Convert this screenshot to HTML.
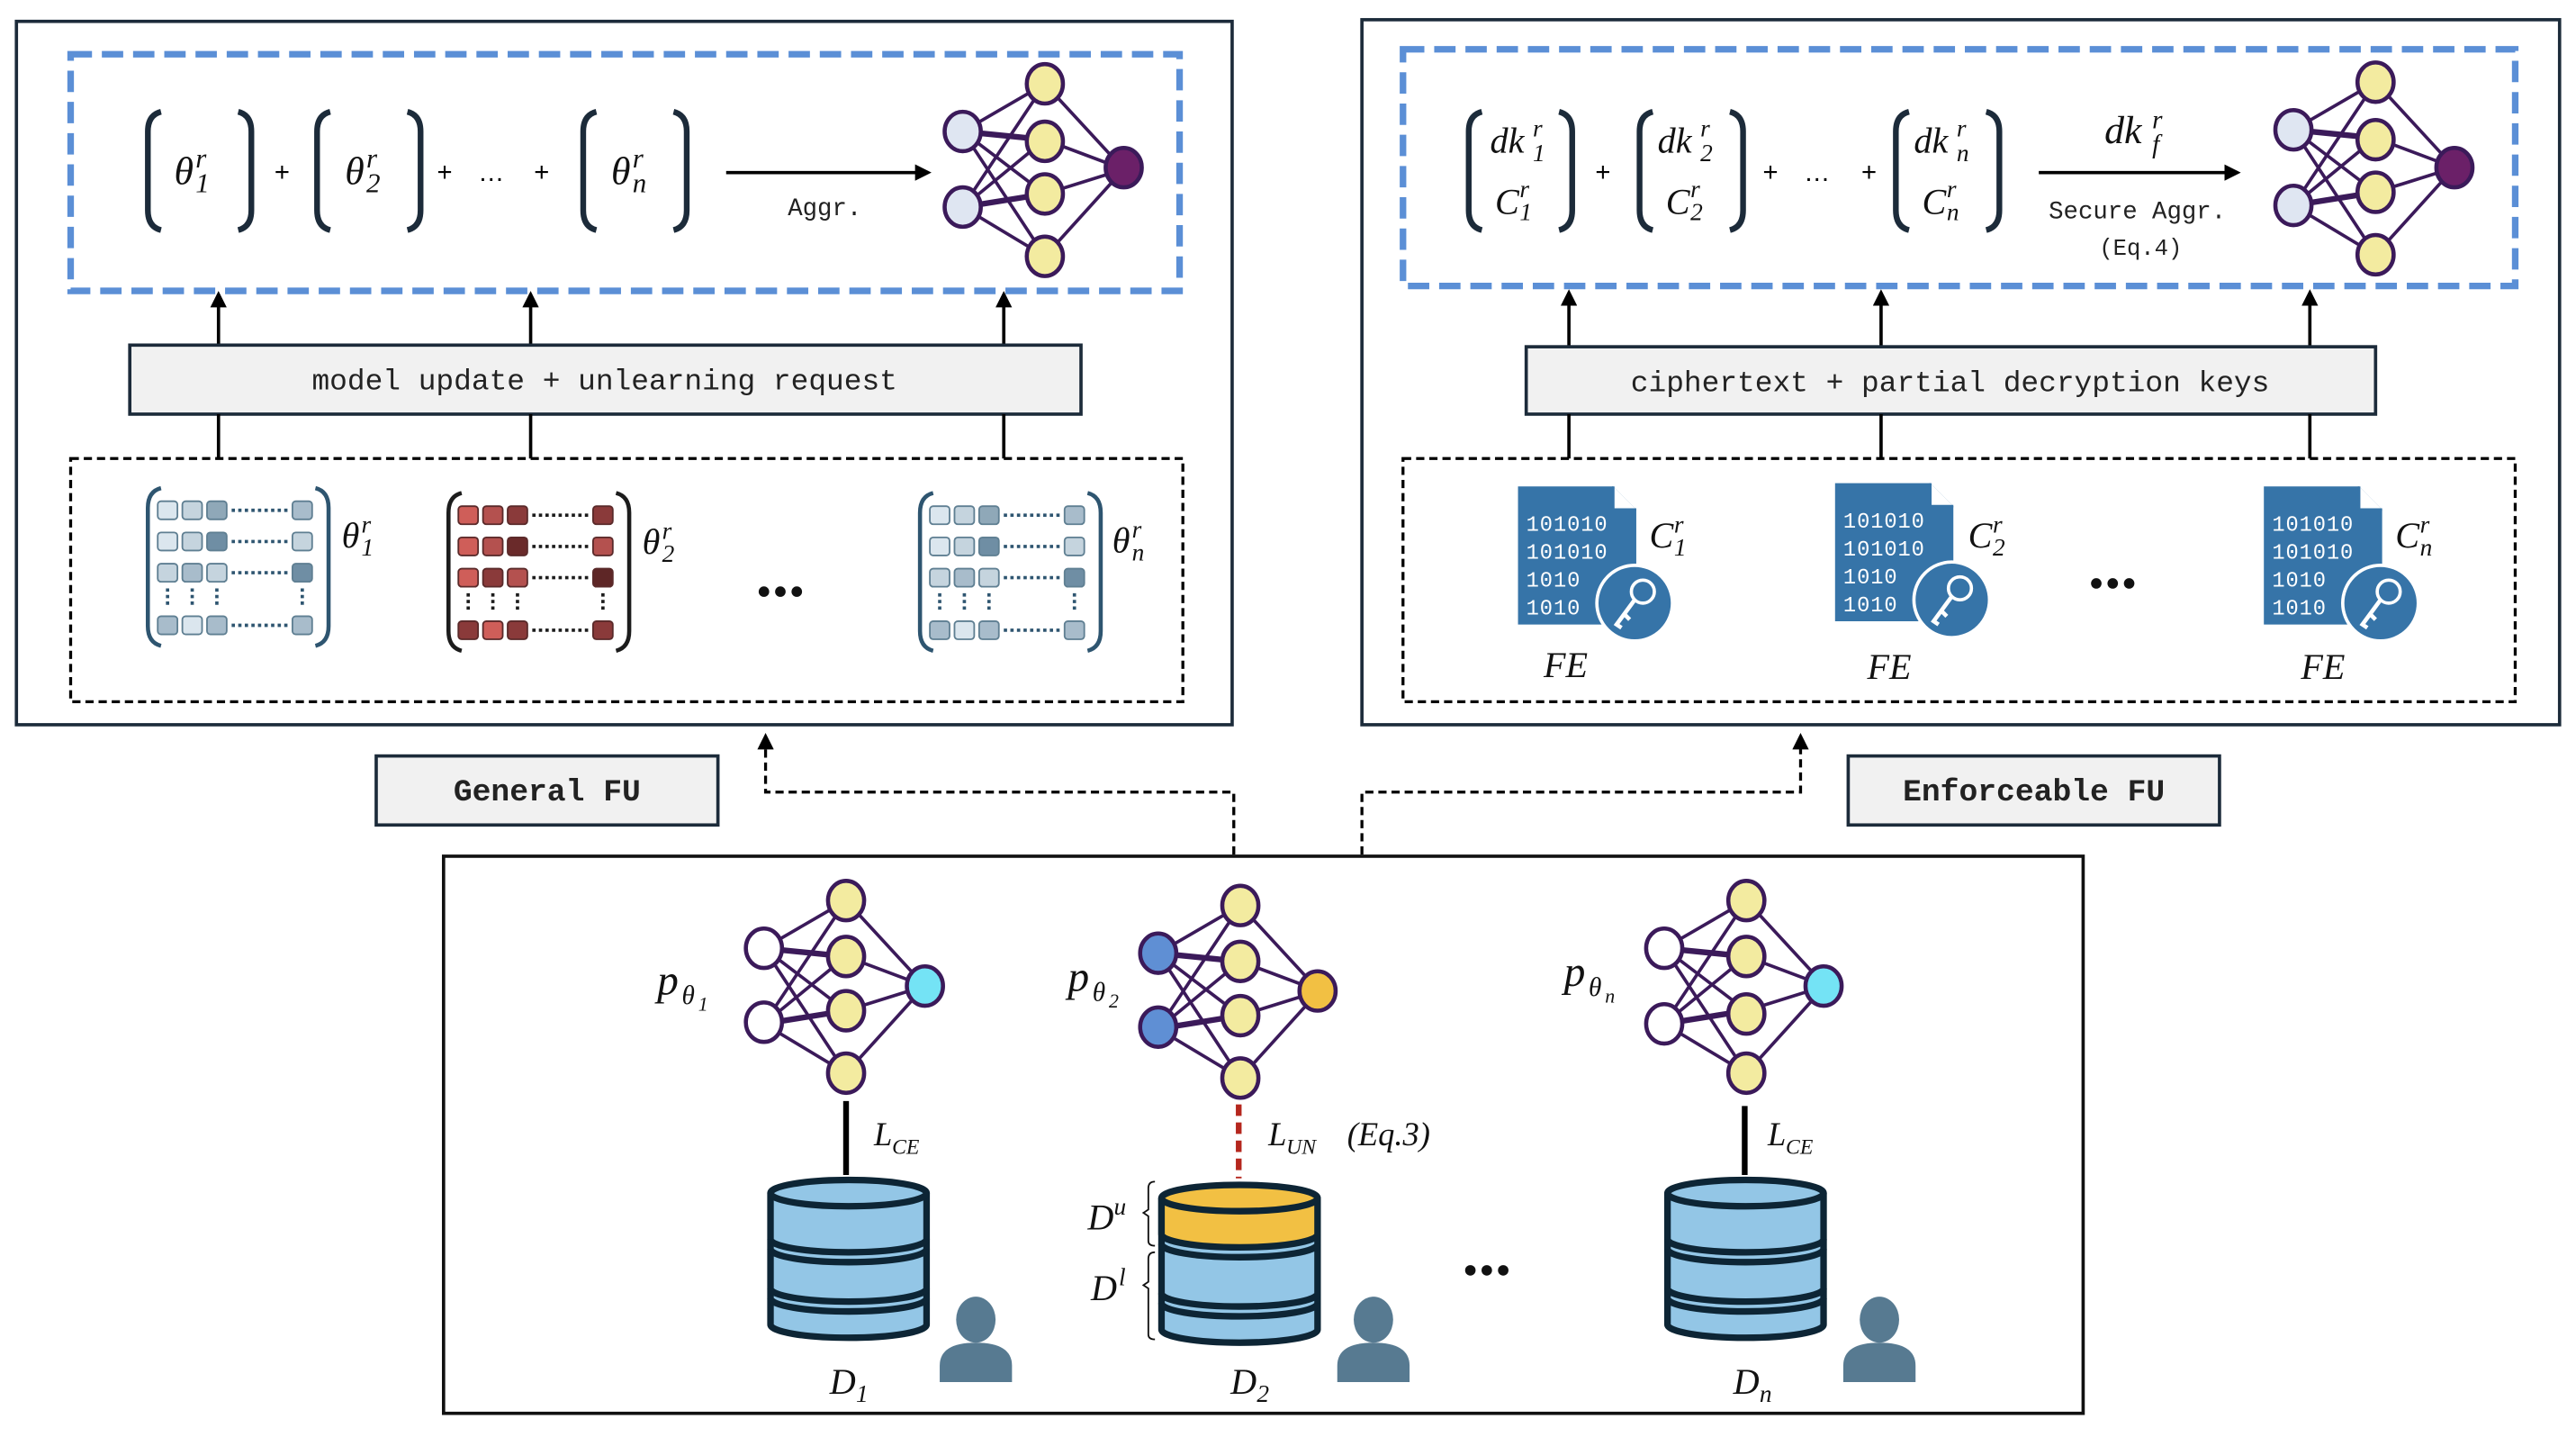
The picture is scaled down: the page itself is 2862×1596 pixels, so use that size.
<!DOCTYPE html>
<html><head><meta charset="utf-8"><style>
html,body{margin:0;padding:0;background:#fff}
svg{display:block}
.m{font-family:"Liberation Serif",serif;font-style:italic;fill:#111}
.mono{font-family:"Liberation Mono",monospace;fill:#222}
</style></head><body>
<svg width="2862" height="1596" viewBox="0 0 1568 874.4" preserveAspectRatio="none" xmlns="http://www.w3.org/2000/svg" xmlns:xlink="http://www.w3.org/1999/xlink">
<defs>
<marker id="ah" markerWidth="10" markerHeight="10" refX="8" refY="5" orient="auto" markerUnits="userSpaceOnUse"><path d="M0,0 L10,5 L0,10 z" fill="#000"/></marker>
<g id="edges" stroke="#3b1a5a" stroke-width="2" fill="none">
<path d="M-50,-23L0,-52M-50,-23L0,-18M-50,-23L0,15M-50,-23L0,53M-50,23L0,-52M-50,23L0,-18M-50,23L0,15M-50,23L0,53M0,-52L48,0M0,-18L48,0M0,15L48,0M0,53L48,0"/>
<path d="M-50,-23L0,-18M-50,23L0,15" stroke-width="3.5"/>
</g>
<g id="brk" fill="none" stroke="#1c2b3a" stroke-width="3.5">
<path d="M10,2 Q2,4 2,14 L2,62 Q2,72 10,74"/>
<path d="M57,2 Q65,4 65,14 L65,62 Q65,72 57,74"/>
</g>
<g id="db" stroke="#0d2535" stroke-width="4" fill="#93c6e6">
<path d="M0,8 L0,88 A47.5,8 0 0 0 95,88 L95,8"/>
<ellipse cx="47.5" cy="8" rx="47.5" ry="8"/>
<path d="M0,36 A47.5,8 0 0 0 95,36 M0,42 A47.5,8 0 0 0 95,42 M0,66 A47.5,8 0 0 0 95,66 M0,72 A47.5,8 0 0 0 95,72" fill="none"/>
</g>
<g id="user" fill="#577a91">
<ellipse cx="0" cy="-12" rx="12" ry="14"/>
<path d="M-22,26 L-22,16 Q-22,2 0,2 Q22,2 22,16 L22,26 Z"/>
</g>
<g id="doc">
<path d="M0,0 L58,0 L72,14 L72,84 L0,84 Z" fill="#3674a8"/>
<path d="M58,0 L58,14 L72,14" fill="#fff" stroke="#3674a8" stroke-width="1.5"/>
<text x="5" y="27" font-family="Liberation Mono,monospace" font-size="13" fill="#fff" letter-spacing="0.5">101010</text>
<text x="5" y="44" font-family="Liberation Mono,monospace" font-size="13" fill="#fff" letter-spacing="0.5">101010</text>
<text x="5" y="61" font-family="Liberation Mono,monospace" font-size="13" fill="#fff" letter-spacing="0.5">1010</text>
<text x="5" y="78" font-family="Liberation Mono,monospace" font-size="13" fill="#fff" letter-spacing="0.5">1010</text>
<circle cx="71" cy="71" r="23" fill="#3674a8" stroke="#fff" stroke-width="2"/>
<circle cx="76" cy="64" r="7" fill="none" stroke="#fff" stroke-width="2"/>
<path d="M71,69 L60,84 L63,86 M65,78 L68,81" stroke="#fff" stroke-width="2.5" fill="none"/>
</g>
<g id="mtxb">
<path d="M8,0 Q0,2 0,12 L0,84 Q0,94 8,96" fill="none" stroke="#2e5570" stroke-width="2.5"/>
<path d="M102,0 Q110,2 110,12 L110,84 Q110,94 102,96" fill="none" stroke="#2e5570" stroke-width="2.5"/>
<g stroke="#5f7f92" stroke-width="1">
<rect x="6" y="8" width="12" height="11" rx="2" fill="#dbe6ee"/><rect x="21" y="8" width="12" height="11" rx="2" fill="#c5d4de"/><rect x="36" y="8" width="12" height="11" rx="2" fill="#8fa8b8"/><rect x="88" y="8" width="12" height="11" rx="2" fill="#a8bccb"/>
<rect x="6" y="27" width="12" height="11" rx="2" fill="#dbe6ee"/><rect x="21" y="27" width="12" height="11" rx="2" fill="#c5d4de"/><rect x="36" y="27" width="12" height="11" rx="2" fill="#6f8ea4"/><rect x="88" y="27" width="12" height="11" rx="2" fill="#c5d4de"/>
<rect x="6" y="46" width="12" height="11" rx="2" fill="#c5d4de"/><rect x="21" y="46" width="12" height="11" rx="2" fill="#a8bccb"/><rect x="36" y="46" width="12" height="11" rx="2" fill="#c5d4de"/><rect x="88" y="46" width="12" height="11" rx="2" fill="#6f8ea4"/>
<rect x="6" y="78" width="12" height="11" rx="2" fill="#a8bccb"/><rect x="21" y="78" width="12" height="11" rx="2" fill="#dbe6ee"/><rect x="36" y="78" width="12" height="11" rx="2" fill="#a8bccb"/><rect x="88" y="78" width="12" height="11" rx="2" fill="#a8bccb"/>
</g>
<g stroke="#2e5570" stroke-width="2" stroke-dasharray="2,2"><path d="M51,13.5H86M51,32.5H86M51,51.5H86M51,83.5H86M12,61V71M27,61V71M42,61V71M94,61V71"/></g>
</g>
<g id="mtxr">
<path d="M8,0 Q0,2 0,12 L0,84 Q0,94 8,96" fill="none" stroke="#1c1c1c" stroke-width="2.5"/>
<path d="M102,0 Q110,2 110,12 L110,84 Q110,94 102,96" fill="none" stroke="#1c1c1c" stroke-width="2.5"/>
<g stroke="#5a2a2a" stroke-width="1">
<rect x="6" y="8" width="12" height="11" rx="2" fill="#cf5e59"/><rect x="21" y="8" width="12" height="11" rx="2" fill="#b4514f"/><rect x="36" y="8" width="12" height="11" rx="2" fill="#8a3a3a"/><rect x="88" y="8" width="12" height="11" rx="2" fill="#8a3a3a"/>
<rect x="6" y="27" width="12" height="11" rx="2" fill="#cf5e59"/><rect x="21" y="27" width="12" height="11" rx="2" fill="#b4514f"/><rect x="36" y="27" width="12" height="11" rx="2" fill="#6a2a2a"/><rect x="88" y="27" width="12" height="11" rx="2" fill="#b4514f"/>
<rect x="6" y="46" width="12" height="11" rx="2" fill="#cf5e59"/><rect x="21" y="46" width="12" height="11" rx="2" fill="#8a3a3a"/><rect x="36" y="46" width="12" height="11" rx="2" fill="#b4514f"/><rect x="88" y="46" width="12" height="11" rx="2" fill="#5e2626"/>
<rect x="6" y="78" width="12" height="11" rx="2" fill="#8a3a3a"/><rect x="21" y="78" width="12" height="11" rx="2" fill="#cf5e59"/><rect x="36" y="78" width="12" height="11" rx="2" fill="#8a3a3a"/><rect x="88" y="78" width="12" height="11" rx="2" fill="#8a3a3a"/>
</g>
<g stroke="#1c1c1c" stroke-width="2" stroke-dasharray="2,2"><path d="M51,13.5H86M51,32.5H86M51,51.5H86M51,83.5H86M12,61V71M27,61V71M42,61V71M94,61V71"/></g>
</g>
</defs>

<!-- LEFT PANEL -->
<rect x="10" y="13" width="740" height="428" fill="none" stroke="#1c2b3a" stroke-width="2"/>
<rect x="43" y="33" width="675" height="144" fill="none" stroke="#5b8fd6" stroke-width="4" stroke-dasharray="13,6"/>
<use xlink:href="#brk" x="88" y="66"/>
<use xlink:href="#brk" x="191" y="66"/>
<use xlink:href="#brk" x="353" y="66"/>
<text class="m" x="106" y="112" font-size="24">θ</text><text class="m" x="119" y="102" font-size="17">r</text><text class="m" x="119" y="117" font-size="17" font-style="normal">1</text>
<text class="m" x="210" y="112" font-size="24">θ</text><text class="m" x="223" y="102" font-size="17">r</text><text class="m" x="223" y="117" font-size="17" font-style="normal">2</text>
<text class="m" x="372" y="112" font-size="24">θ</text><text class="m" x="385" y="102" font-size="17">r</text><text class="m" x="385" y="117" font-size="17">n</text>
<text x="167" y="110" font-family="Liberation Sans" font-size="16">+</text>
<text x="266" y="110" font-family="Liberation Sans" font-size="16">+</text>
<text x="291" y="110" font-family="Liberation Sans" font-size="16">…</text>
<text x="325" y="110" font-family="Liberation Sans" font-size="16">+</text>
<line x1="442" y1="105" x2="565" y2="105" stroke="#000" stroke-width="2" marker-end="url(#ah)"/>
<text class="mono" x="502" y="131" font-size="15" text-anchor="middle">Aggr.</text>
<g transform="translate(636,103)">
<use xlink:href="#edges"/>
<g stroke="#3b1a5a" stroke-width="2.5">
<ellipse cx="-50" cy="-23" rx="11" ry="12" fill="#dfe6f2"/><ellipse cx="-50" cy="23" rx="11" ry="12" fill="#dfe6f2"/>
<ellipse cx="0" cy="-52" rx="11" ry="12" fill="#f3eba0"/><ellipse cx="0" cy="-17" rx="11" ry="12" fill="#f3eba0"/><ellipse cx="0" cy="15" rx="11" ry="12" fill="#f3eba0"/><ellipse cx="0" cy="53" rx="11" ry="12" fill="#f3eba0"/>
<ellipse cx="48" cy="-1" rx="11" ry="12" fill="#6b2068"/></g>
</g>
<line x1="133" y1="210" x2="133" y2="179" stroke="#000" stroke-width="2" marker-end="url(#ah)"/>
<line x1="323" y1="210" x2="323" y2="179" stroke="#000" stroke-width="2" marker-end="url(#ah)"/>
<line x1="611" y1="210" x2="611" y2="179" stroke="#000" stroke-width="2" marker-end="url(#ah)"/>
<rect x="79" y="210" width="579" height="42" fill="#f1f1f1" stroke="#1c2b3a" stroke-width="2"/>
<text class="mono" x="368" y="237" font-size="18" text-anchor="middle">model update + unlearning request</text>
<path d="M133,252V279M323,252V279M611,252V279" stroke="#000" stroke-width="2"/>
<rect x="43" y="279" width="677" height="148" fill="none" stroke="#000" stroke-width="1.8" stroke-dasharray="5,3"/>
<use xlink:href="#mtxb" x="90" y="297"/>
<use xlink:href="#mtxr" x="273" y="300"/>
<use xlink:href="#mtxb" x="560" y="300"/>
<text class="m" x="208" y="333" font-size="22">θ</text><text class="m" x="220" y="324" font-size="15">r</text><text class="m" x="220" y="338" font-size="15" font-style="normal">1</text>
<text class="m" x="391" y="337" font-size="22">θ</text><text class="m" x="403" y="328" font-size="15">r</text><text class="m" x="403" y="342" font-size="15" font-style="normal">2</text>
<text class="m" x="677" y="336" font-size="22">θ</text><text class="m" x="689" y="327" font-size="15">r</text><text class="m" x="689" y="341" font-size="15">n</text>
<g fill="#111"><circle cx="465" cy="360" r="3.2"/><circle cx="475" cy="360" r="3.2"/><circle cx="485" cy="360" r="3.2"/></g>

<!-- RIGHT PANEL -->
<rect x="829" y="12" width="729" height="429" fill="none" stroke="#1c2b3a" stroke-width="2"/>
<rect x="854" y="30" width="677" height="144" fill="none" stroke="#5b8fd6" stroke-width="4" stroke-dasharray="13,6"/>
<use xlink:href="#brk" x="892" y="66"/>
<use xlink:href="#brk" x="996" y="66"/>
<use xlink:href="#brk" x="1152" y="66"/>
<text class="m" x="907" y="93" font-size="22">dk</text><text class="m" x="933" y="83" font-size="15">r</text><text class="m" x="933" y="98" font-size="15" font-style="normal">1</text>
<text class="m" x="910" y="130" font-size="22">C</text><text class="m" x="925" y="120" font-size="15">r</text><text class="m" x="925" y="134" font-size="15" font-style="normal">1</text>
<text class="m" x="1009" y="93" font-size="22">dk</text><text class="m" x="1035" y="83" font-size="15">r</text><text class="m" x="1035" y="98" font-size="15" font-style="normal">2</text>
<text class="m" x="1014" y="130" font-size="22">C</text><text class="m" x="1029" y="120" font-size="15">r</text><text class="m" x="1029" y="134" font-size="15" font-style="normal">2</text>
<text class="m" x="1165" y="93" font-size="22">dk</text><text class="m" x="1191" y="83" font-size="15">r</text><text class="m" x="1191" y="98" font-size="15">n</text>
<text class="m" x="1170" y="130" font-size="22">C</text><text class="m" x="1185" y="120" font-size="15">r</text><text class="m" x="1185" y="134" font-size="15">n</text>
<text x="971" y="110" font-family="Liberation Sans" font-size="16">+</text>
<text x="1073" y="110" font-family="Liberation Sans" font-size="16">+</text>
<text x="1098" y="110" font-family="Liberation Sans" font-size="16">…</text>
<text x="1133" y="110" font-family="Liberation Sans" font-size="16">+</text>
<line x1="1241" y1="105" x2="1362" y2="105" stroke="#000" stroke-width="2" marker-end="url(#ah)"/>
<text class="m" x="1281" y="87" font-size="24">dk</text><text class="m" x="1310" y="78" font-size="16">r</text><text class="m" x="1310" y="93" font-size="16">f</text>
<text class="mono" x="1301" y="133" font-size="15" text-anchor="middle">Secure Aggr.</text>
<text class="mono" x="1303" y="155" font-size="14" text-anchor="middle">(Eq.4)</text>
<g transform="translate(1446,102)">
<use xlink:href="#edges"/>
<g stroke="#3b1a5a" stroke-width="2.5">
<ellipse cx="-50" cy="-23" rx="11" ry="12" fill="#dfe6f2"/><ellipse cx="-50" cy="23" rx="11" ry="12" fill="#dfe6f2"/>
<ellipse cx="0" cy="-52" rx="11" ry="12" fill="#f3eba0"/><ellipse cx="0" cy="-17" rx="11" ry="12" fill="#f3eba0"/><ellipse cx="0" cy="15" rx="11" ry="12" fill="#f3eba0"/><ellipse cx="0" cy="53" rx="11" ry="12" fill="#f3eba0"/>
<ellipse cx="48" cy="0" rx="11" ry="12" fill="#6b2068"/></g>
</g>
<line x1="955" y1="211" x2="955" y2="178" stroke="#000" stroke-width="2" marker-end="url(#ah)"/>
<line x1="1145" y1="211" x2="1145" y2="178" stroke="#000" stroke-width="2" marker-end="url(#ah)"/>
<line x1="1406" y1="211" x2="1406" y2="178" stroke="#000" stroke-width="2" marker-end="url(#ah)"/>
<rect x="929" y="211" width="517" height="41" fill="#f1f1f1" stroke="#1c2b3a" stroke-width="2"/>
<text class="mono" x="1187" y="238" font-size="18" text-anchor="middle">ciphertext + partial decryption keys</text>
<path d="M955,252V279M1145,252V279M1406,252V279" stroke="#000" stroke-width="2"/>
<rect x="854" y="279" width="677" height="148" fill="none" stroke="#000" stroke-width="1.8" stroke-dasharray="5,3"/>
<use xlink:href="#doc" x="924" y="296"/>
<use xlink:href="#doc" x="1117" y="294"/>
<use xlink:href="#doc" x="1378" y="296"/>
<text class="m" x="1004" y="333" font-size="22">C</text><text class="m" x="1019" y="324" font-size="15">r</text><text class="m" x="1019" y="338" font-size="15" font-style="normal">1</text>
<text class="m" x="1198" y="333" font-size="22">C</text><text class="m" x="1213" y="324" font-size="15">r</text><text class="m" x="1213" y="338" font-size="15" font-style="normal">2</text>
<text class="m" x="1458" y="333" font-size="22">C</text><text class="m" x="1473" y="324" font-size="15">r</text><text class="m" x="1473" y="338" font-size="15">n</text>
<text class="m" x="953" y="412" font-size="22" text-anchor="middle">FE</text>
<text class="m" x="1150" y="413" font-size="22" text-anchor="middle">FE</text>
<text class="m" x="1414" y="413" font-size="22" text-anchor="middle">FE</text>
<g fill="#111"><circle cx="1276" cy="355" r="3.2"/><circle cx="1286" cy="355" r="3.2"/><circle cx="1296" cy="355" r="3.2"/></g>

<!-- labels -->
<rect x="229" y="460" width="208" height="42" fill="#f1f1f1" stroke="#1c2b3a" stroke-width="2"/>
<text class="mono" x="333" y="487" font-size="19" font-weight="bold" text-anchor="middle" fill="#1c2b3a">General FU</text>
<rect x="1125" y="460" width="226" height="42" fill="#f1f1f1" stroke="#1c2b3a" stroke-width="2"/>
<text class="mono" x="1238" y="487" font-size="19" font-weight="bold" text-anchor="middle" fill="#1c2b3a">Enforceable FU</text>
<path d="M751,520V482H466V448" fill="none" stroke="#000" stroke-width="1.8" stroke-dasharray="5,3" marker-end="url(#ah)"/>
<path d="M829,520V482H1096V448" fill="none" stroke="#000" stroke-width="1.8" stroke-dasharray="5,3" marker-end="url(#ah)"/>

<!-- BOTTOM -->
<rect x="270" y="521" width="998" height="339" fill="none" stroke="#111" stroke-width="2"/>
<g transform="translate(515,600)">
<use xlink:href="#edges"/>
<g stroke="#3b1a5a" stroke-width="2.5">
<ellipse cx="-50" cy="-23" rx="11" ry="12" fill="#fff"/><ellipse cx="-50" cy="22" rx="11" ry="12" fill="#fff"/>
<ellipse cx="0" cy="-52" rx="11" ry="12" fill="#f3eba0"/><ellipse cx="0" cy="-18" rx="11" ry="12" fill="#f3eba0"/><ellipse cx="0" cy="15" rx="11" ry="12" fill="#f3eba0"/><ellipse cx="0" cy="53" rx="11" ry="12" fill="#f3eba0"/>
<ellipse cx="48" cy="0" rx="11" ry="12" fill="#74e3f5"/></g>
</g>
<g transform="translate(755,603)">
<use xlink:href="#edges"/>
<g stroke="#3b1a5a" stroke-width="2.5">
<ellipse cx="-50" cy="-23" rx="11" ry="12" fill="#5f8fd4"/><ellipse cx="-50" cy="22" rx="11" ry="12" fill="#5f8fd4"/>
<ellipse cx="0" cy="-52" rx="11" ry="12" fill="#f3eba0"/><ellipse cx="0" cy="-18" rx="11" ry="12" fill="#f3eba0"/><ellipse cx="0" cy="15" rx="11" ry="12" fill="#f3eba0"/><ellipse cx="0" cy="53" rx="11" ry="12" fill="#f3eba0"/>
<ellipse cx="47" cy="0" rx="11" ry="12" fill="#f2c043"/></g>
</g>
<g transform="translate(1063,600)">
<use xlink:href="#edges"/>
<g stroke="#3b1a5a" stroke-width="2.5">
<ellipse cx="-50" cy="-23" rx="11" ry="12" fill="#fff"/><ellipse cx="-50" cy="23" rx="11" ry="12" fill="#fff"/>
<ellipse cx="0" cy="-52" rx="11" ry="12" fill="#f3eba0"/><ellipse cx="0" cy="-18" rx="11" ry="12" fill="#f3eba0"/><ellipse cx="0" cy="17" rx="11" ry="12" fill="#f3eba0"/><ellipse cx="0" cy="53" rx="11" ry="12" fill="#f3eba0"/>
<ellipse cx="47" cy="0" rx="11" ry="12" fill="#74e3f5"/></g>
</g>
<text class="m" x="400" y="605" font-size="26">p</text><text class="m" x="415" y="611" font-size="16">θ</text><text class="m" x="425" y="615" font-size="12" font-style="normal">1</text>
<text class="m" x="650" y="603" font-size="26">p</text><text class="m" x="665" y="609" font-size="16">θ</text><text class="m" x="675" y="613" font-size="12" font-style="normal">2</text>
<text class="m" x="952" y="600" font-size="26">p</text><text class="m" x="967" y="606" font-size="16">θ</text><text class="m" x="977" y="610" font-size="12">n</text>

<line x1="515" y1="670" x2="515" y2="715" stroke="#000" stroke-width="3.5"/>
<line x1="754" y1="672" x2="754" y2="717" stroke="#b5271e" stroke-width="3.5" stroke-dasharray="7,4"/>
<line x1="1062" y1="673" x2="1062" y2="715" stroke="#000" stroke-width="3.5"/>
<text class="m" x="532" y="697" font-size="20">L</text><text class="m" x="543" y="702" font-size="13">CE</text>
<text class="m" x="772" y="697" font-size="20">L</text><text class="m" x="783" y="702" font-size="13">UN</text><text class="m" x="820" y="697" font-size="20">(Eq.3)</text>
<text class="m" x="1076" y="697" font-size="20">L</text><text class="m" x="1087" y="702" font-size="13">CE</text>

<use xlink:href="#db" x="469" y="718"/>
<use xlink:href="#db" x="1015" y="718"/>
<g transform="translate(707,721)">
<g stroke="#0d2535" stroke-width="4">
<path d="M0,8 L0,88 A47.5,8 0 0 0 95,88 L95,8" fill="#93c6e6"/>
<path d="M0,8 L0,30 A47.5,8 0 0 0 95,30 L95,8" fill="#f2c043"/>
<ellipse cx="47.5" cy="8" rx="47.5" ry="8" fill="#f2c043"/>
<path d="M0,36 A47.5,8 0 0 0 95,36 M0,66 A47.5,8 0 0 0 95,66 M0,72 A47.5,8 0 0 0 95,72" fill="none"/>
</g></g>
<path d="M703,719 Q699,719 699,723 L699,736 L696,738 L699,740 L699,755 Q699,758 703,758" fill="none" stroke="#111" stroke-width="1"/>
<path d="M703,762 Q699,762 699,766 L699,780 L696,782 L699,784 L699,812 Q699,815 703,815" fill="none" stroke="#111" stroke-width="1"/>
<text class="m" x="662" y="748" font-size="22">D</text><text class="m" x="678" y="739" font-size="15">u</text>
<text class="m" x="664" y="791" font-size="22">D</text><text class="m" x="681" y="782" font-size="15">l</text>
<g fill="#111"><circle cx="895" cy="773" r="3.2"/><circle cx="905" cy="773" r="3.2"/><circle cx="915" cy="773" r="3.2"/></g>

<use xlink:href="#user" x="594" y="815"/>
<use xlink:href="#user" x="836" y="815"/>
<use xlink:href="#user" x="1144" y="815"/>
<text class="m" x="505" y="848" font-size="22">D</text><text class="m" x="521" y="853" font-size="15" font-style="normal">1</text>
<text class="m" x="749" y="848" font-size="22">D</text><text class="m" x="765" y="853" font-size="15" font-style="normal">2</text>
<text class="m" x="1055" y="848" font-size="22">D</text><text class="m" x="1071" y="853" font-size="15">n</text>
</svg>
</body></html>
